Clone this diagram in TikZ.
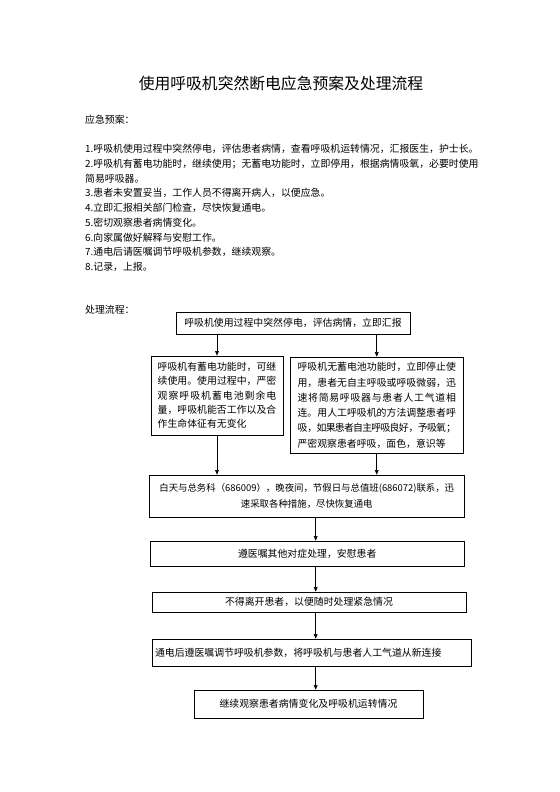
\documentclass[tikz,border=0pt]{standalone}
\usepackage{fontspec}
\setmainfont{Noto Sans CJK SC}
\usepackage{tikz}
\usetikzlibrary{arrows.meta}
\XeTeXlinebreaklocale "zh"
\XeTeXlinebreakskip=0pt plus 1.5pt minus 1pt
\setlength{\parindent}{0pt}
\newcommand{\bodysize}{\fontsize{10.5pt}{15.6pt}\selectfont}

\begin{document}
\begin{tikzpicture}[x=1.0631pt,y=-1.0631pt]
\tikzstyle{every node}+=[inner sep=0pt, font=\bodysize]
\tikzstyle{box}=[draw=black, line width=0.6pt]
\tikzstyle{arr}=[draw=black, line width=0.6pt, -{Triangle[length=5pt,width=4pt]}]
\useasboundingbox (0,0) rectangle (560,792);
\node [font=\fontsize{16.8pt}{20pt}\selectfont] (title) at (281,83) {使用呼吸机突然断电应急预案及处理流程};
\node [anchor=west] (plan) at (85,120) {应急预案：};
\foreach \t [count=\i] in {1.呼吸机使用过程中突然停电，评估患者病情，查看呼吸机运转情况，汇报医生，护士长。,
  2.呼吸机有蓄电功能时，继续使用；无蓄电功能时，立即停用，根据病情吸氧，必要时使用,
  简易呼吸器。, 3.患者未安置妥当，工作人员不得离开病人，以便应急。,
  4.立即汇报相关部门检查，尽快恢复通电。, 5.密切观察患者病情变化。,
  6.向家属做好解释与安慰工作。, 7.通电后请医嘱调节呼吸机参数，继续观察。, 8.记录，上报。}
  \node [anchor=west] (plan\i) at (85,{149.3+14.67*(\i-1)}) {\t};
\node [anchor=west] (flow) at (85,310) {处理流程：};
% flow chart
\node [box, minimum width=248.8pt, minimum height=23.4pt] (stop) at (293,323) {呼吸机使用过程中突然停电，评估病情，立即汇报};
\node [box, minimum width=140.3pt, minimum height=84pt, text width=126.2pt, align=justify,
  font=\fontsize{10.5pt}{15.2pt}\selectfont] (battery) at (217,395.5)
  {呼吸机有蓄电功能时，可继\linebreak 续使用。使用过程中，严密\linebreak 观察呼吸机蓄电池剩余电\linebreak 量，呼吸机能否工作以及合\linebreak 作生命体征有无变化};
\node [box, minimum width=184.4pt, minimum height=102.6pt, text width=168.3pt, align=justify,
  font=\fontsize{10.5pt}{16.2pt}\selectfont] (nobattery) at (376.75,405.25)
  {呼吸机无蓄电池功能时，立即停止使\linebreak 用，患者无自主呼吸或呼吸微弱，迅\linebreak 速将简易呼吸器与患者人工气道相\linebreak 连。用人工呼吸机的方法调整患者呼\linebreak 吸，如果患者自主呼吸良好，予吸氧；\linebreak 严密观察患者呼吸，面色，意识等};
\node [box, minimum width=335.4pt, minimum height=44.65pt, align=center,
  font=\fontsize{10pt}{16.7pt}\selectfont] (power) at (306.75,496)
  {白天与总务科（686009），晚夜间，节假日与总值班(686072)联系，迅\\速采取各种措施，尽快恢复通电};
\node [box, minimum width=334.4pt, minimum height=26.6pt] (treat) at (307.25,553.5) {遵医嘱其他对症处理，安慰患者};
\node [box, minimum width=333.8pt, minimum height=21.8pt] (stay) at (309,602.25) {不得离开患者，以便随时处理紧急情况};
\node [box, minimum width=339.1pt, minimum height=28.7pt, text width=332.7pt, align=left] (reconnect) at (311.5,652.5)
  {通电后遵医嘱调节呼吸机参数，将呼吸机与患者人工气道从新连接};
\node [box, minimum width=243.4pt, minimum height=29.8pt] (watch) at (308.5,704) {继续观察患者病情变化及呼吸机运转情况};
\coordinate (spine) at (315.7,0);
\draw [arr] (stop.south -| battery.north) -- (battery.north);
\draw [arr] (stop.south -| nobattery.north) -- (nobattery.north);
\draw [arr] (battery.south) -- (battery.south |- power.north);
\draw [arr] (nobattery.south) -- (nobattery.south |- power.north);
\draw [arr] (power.south -| spine) -- (treat.north -| spine);
\draw [arr] (treat.south -| spine) -- (stay.north -| spine);
\draw [arr] (stay.south -| spine) -- (reconnect.north -| spine);
\draw [arr] (reconnect.south -| spine) -- (watch.north -| spine);
\end{tikzpicture}
\end{document}
